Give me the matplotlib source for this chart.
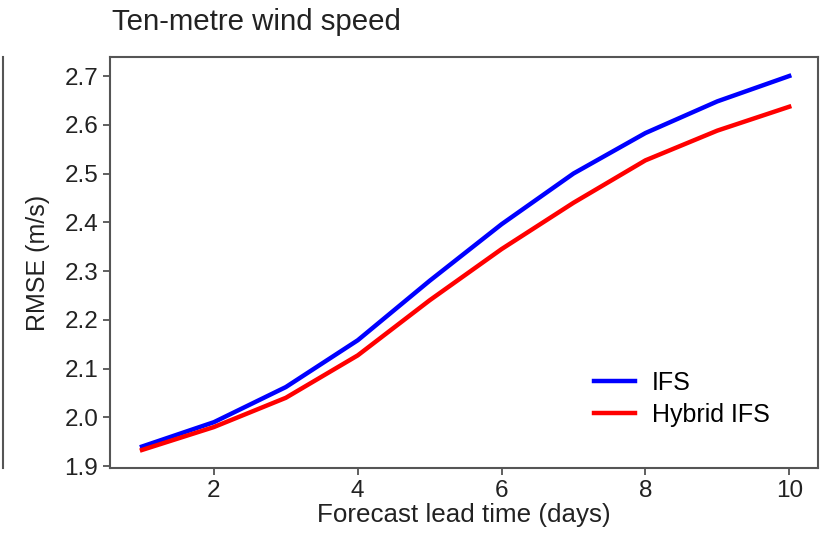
import matplotlib
matplotlib.use("Agg")
import matplotlib.pyplot as plt
from matplotlib.lines import Line2D

# forecast lead time (days)
days = [1, 2, 3, 4, 5, 6, 7, 8, 9, 10]
# RMSE of ten-metre wind speed (m/s)
ifs = [1.940, 1.990, 2.062, 2.158, 2.280, 2.396, 2.500, 2.583, 2.648, 2.700]
hybrid = [1.933, 1.980, 2.040, 2.127, 2.240, 2.345, 2.440, 2.527, 2.588, 2.637]
xticks = [2, 4, 6, 8, 10]
yticks = [1.9, 2.0, 2.1, 2.2, 2.3, 2.4, 2.5, 2.6, 2.7]

plt.rcParams['font.family'] = ['Liberation Sans', 'DejaVu Sans']

fig = plt.figure(figsize=(8.25, 5.41), dpi=100)
ax = fig.add_axes([110/825, 1-468/541, 708/825, 411/541])

ax.plot(days, ifs, color='#0000ff', linewidth=3.2, label='IFS')
ax.plot(days, hybrid, color='#ff0000', linewidth=3.2, label='Hybrid IFS')

ax.set_xlim(0.555, 10.40)
ax.set_ylim(1.896, 2.739)
ax.set_xticks(xticks)
ax.set_yticks(yticks)
ax.set_yticklabels(['%.1f' % v for v in yticks])
ax.tick_params(labelsize=17.5, length=5, width=1.2, color='#444444', labelcolor='#222222')
for s in ax.spines.values():
    s.set_color('#555555')
    s.set_linewidth(1.5)

ax.set_xlabel('Forecast lead time (days)', fontsize=18.7, color='#222222', labelpad=1)
ax.set_ylabel('RMSE (m/s)', fontsize=18, color='#222222', labelpad=10)
fig.text(112/825, 1-22/541, 'Ten-metre wind speed', fontsize=21.2, color='#222222',
         ha='left', va='center')

ax.legend(loc='upper left', bbox_to_anchor=(0.666, 0.267), frameon=False, fontsize=18,
          borderpad=0, handlelength=1.65, handletextpad=0.65, labelspacing=0.32)

# edge of neighbouring panel on the left
fig.add_artist(Line2D([2.5/825, 2.5/825], [1-57/541, 1-468/541], color='#555555', linewidth=1.5))

fig.savefig('out.png', dpi=100)
